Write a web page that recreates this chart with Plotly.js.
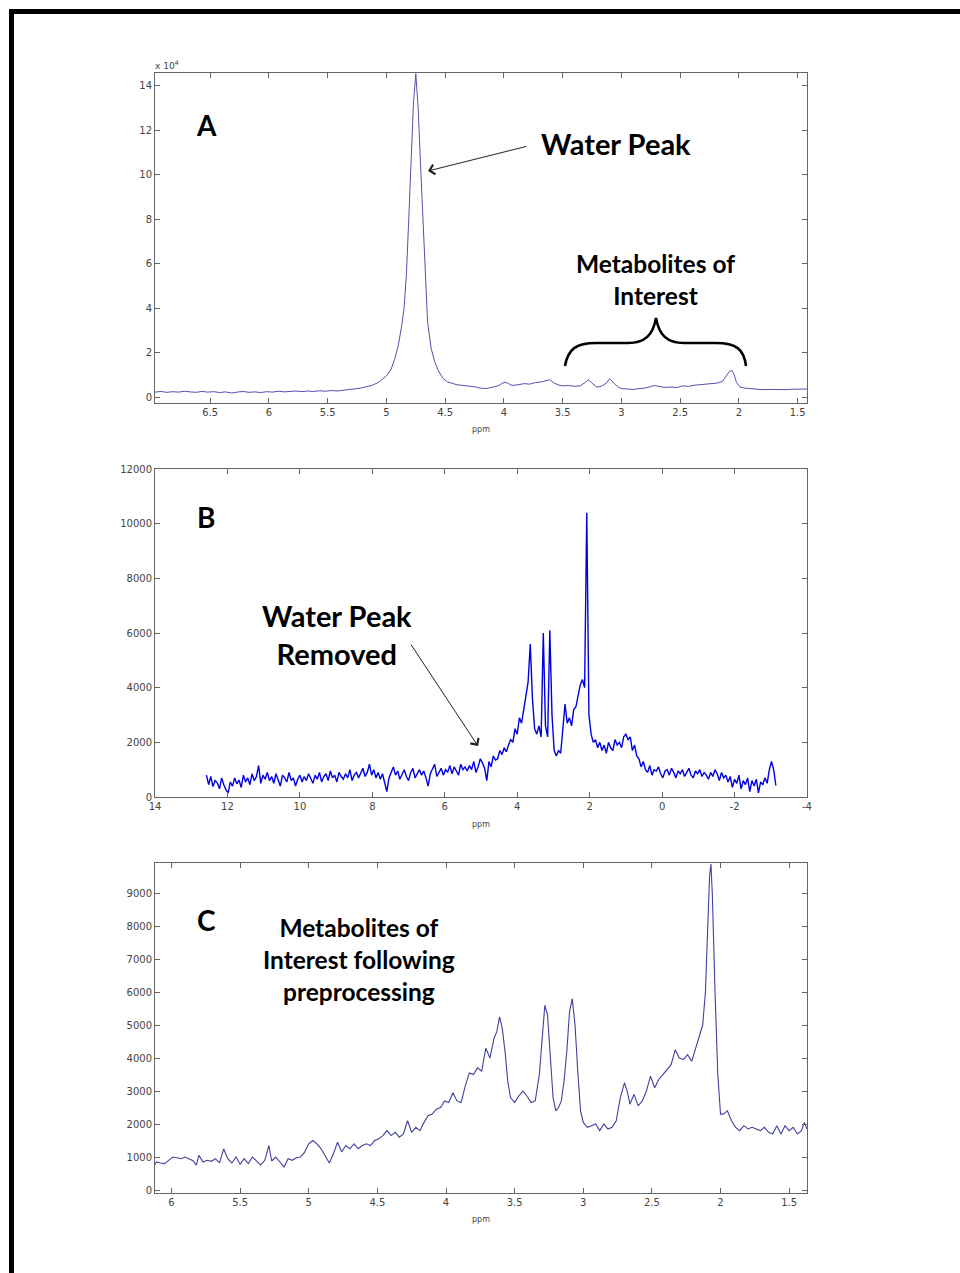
<!DOCTYPE html>
<html>
<head>
<meta charset="utf-8">
<script src="https://cdn.plot.ly/plotly-3.0.1.min.js"></script>
<style>html,body{margin:0;padding:0;background:#fff;}#chart{width:960px;height:1273px;}</style>
</head>
<body>
<div id="chart"></div>
<script>
// ---------- Panel A : raw spectrum (signal in units of 10^4) ----------
const aPpm = [6.97, 6.92, 6.87, 6.82, 6.77, 6.72, 6.67, 6.62, 6.57, 6.52,
  6.47, 6.42, 6.37, 6.32, 6.27, 6.22, 6.17, 6.12, 6.07, 6.02,
  5.97, 5.92, 5.87, 5.82, 5.77, 5.72, 5.67, 5.62, 5.57, 5.52,
  5.47, 5.42, 5.37, 5.32, 5.27, 5.22, 5.17, 5.12, 5.07, 5.03,
  5.00, 4.96, 4.93, 4.90, 4.87, 4.85, 4.83, 4.81, 4.79, 4.77,
  4.75, 4.73, 4.71, 4.69, 4.67, 4.65, 4.62, 4.59, 4.56, 4.52,
  4.48, 4.44, 4.40, 4.35, 4.30, 4.25, 4.20, 4.15, 4.10, 4.05,
  4.02, 3.99, 3.96, 3.93, 3.88, 3.83, 3.78, 3.73, 3.68, 3.64,
  3.61, 3.58, 3.54, 3.50, 3.45, 3.40, 3.35, 3.31, 3.28, 3.25,
  3.21, 3.17, 3.13, 3.10, 3.07, 3.03, 3.00, 2.95, 2.90, 2.85,
  2.80, 2.75, 2.72, 2.68, 2.63, 2.58, 2.53, 2.48, 2.43, 2.38,
  2.33, 2.28, 2.23, 2.18, 2.14, 2.11, 2.08, 2.06, 2.04, 2.02,
  1.99, 1.95, 1.90, 1.85, 1.80, 1.75, 1.70, 1.65, 1.60, 1.55,
  1.50, 1.45, 1.42];
const aSignal = [0.22, 0.25, 0.21, 0.24, 0.22, 0.26, 0.23, 0.21, 0.25, 0.22,
  0.24, 0.20, 0.23, 0.18, 0.22, 0.25, 0.21, 0.23, 0.20, 0.24,
  0.22, 0.26, 0.23, 0.25, 0.27, 0.24, 0.27, 0.25, 0.28, 0.26,
  0.29, 0.27, 0.30, 0.32, 0.34, 0.40, 0.46, 0.53, 0.65, 0.80,
  0.95, 1.25, 1.7, 2.3, 3.2, 4.0, 5.5, 8.0, 10.8, 13.2,
  14.55, 13.0, 10.5, 8.0, 5.2, 3.4, 2.2, 1.6, 1.2, 0.85,
  0.68, 0.60, 0.55, 0.52, 0.50, 0.46, 0.40, 0.38, 0.44, 0.50,
  0.60, 0.67, 0.60, 0.52, 0.55, 0.60, 0.58, 0.65, 0.68, 0.75,
  0.78, 0.65, 0.55, 0.50, 0.52, 0.48, 0.50, 0.65, 0.78, 0.62,
  0.45, 0.48, 0.62, 0.82, 0.68, 0.45, 0.38, 0.36, 0.34, 0.38,
  0.40, 0.47, 0.52, 0.48, 0.43, 0.45, 0.42, 0.50, 0.48, 0.53,
  0.55, 0.58, 0.60, 0.63, 0.70, 0.90, 1.15, 1.2, 1.0, 0.65,
  0.45, 0.40, 0.37, 0.35, 0.33, 0.34, 0.33, 0.34, 0.33, 0.35,
  0.35, 0.37, 0.36];
const aXTicks = [6.5, 6, 5.5, 5, 4.5, 4, 3.5, 3, 2.5, 2, 1.5];
const aYTicks = [0, 2, 4, 6, 8, 10, 12, 14];

// ---------- Panel B : water removed (uniform ppm grid, start / step) ----------
const bStartPpm = 12.58;
const bStepPpm = -0.06;
const bSignal = [800, 450, 750, 380, 600, 520, 300, 700, 450, 260,
  150, 550, 400, 700, 480, 620, 350, 800, 550, 700,
  450, 850, 600, 750, 1150, 500, 800, 650, 900, 600,
  750, 500, 850, 650, 400, 800, 700, 550, 900, 600,
  700, 400, 650, 800, 550, 750, 600, 850, 700, 500,
  800, 650, 900, 550, 750, 850, 600, 950, 700, 800,
  550, 900, 750, 650, 850, 700, 1000, 600, 800, 900,
  700, 850, 1050, 750, 900, 1200, 800, 1000, 700, 900,
  650, 850, 550, 200, 700, 900, 1100, 800, 950, 650,
  850, 1000, 750, 600, 900, 1050, 700, 850, 1000, 800,
  950, 700, 400, 850, 1000, 1200, 750, 900, 1050, 800,
  1000, 900, 1150, 850, 1100, 950, 800, 1200, 1000, 1100,
  950, 1150, 1000, 1300, 900, 1100, 1400, 1250, 1050, 600,
  1300, 1100, 1500, 1350, 1400, 1700, 1550, 1800, 1650, 1900,
  2100, 2000, 2500, 2300, 2900, 2700, 3200, 3700, 4200, 5600,
  3600, 2500, 2300, 2600, 2200, 6000, 2600, 2200, 6100, 3000,
  1700, 1500, 1700, 1600, 2500, 3400, 2700, 2900, 2600, 3200,
  3300, 3700, 4100, 4300, 4000, 10400, 3000, 2300, 2000, 2100,
  1800, 2000, 1700, 1900, 1600, 2000, 1800, 1700, 2100, 1900,
  2000, 1800, 2200, 2300, 2100, 2200, 1700, 1900, 1500, 1400,
  1100, 1300, 1000, 900, 1150, 800, 1000, 950, 1100, 850,
  700, 950, 1000, 800, 1050, 900, 700, 950, 850, 1000,
  750, 900, 1050, 800, 700, 950, 850, 1000, 750, 900,
  800, 650, 900, 750, 1000, 850, 600, 900, 700, 800,
  550, 750, 350, 650, 500, 800, 300, 600, 450, 700,
  200, 600, 400, 650, 150, 550, 450, 700, 500, 1000,
  1300, 1000, 420];
const bXTicks = [14, 12, 10, 8, 6, 4, 2, 0, -2, -4];
const bXLabels = ['14', '12', '10', '8', '6', '4', '2', '0', '-2', '-4'];

// ---------- Panel C : metabolite region after preprocessing ----------
const cPpm = [6.13, 6.11, 6.08, 6.05, 6.02, 5.99, 5.96, 5.93, 5.90, 5.87,
  5.84, 5.82, 5.80, 5.77, 5.74, 5.71, 5.68, 5.65, 5.62, 5.59,
  5.56, 5.53, 5.50, 5.47, 5.44, 5.41, 5.38, 5.35, 5.32, 5.29,
  5.27, 5.24, 5.21, 5.18, 5.15, 5.12, 5.09, 5.06, 5.03, 5.00,
  4.97, 4.94, 4.91, 4.88, 4.85, 4.82, 4.79, 4.76, 4.73, 4.70,
  4.67, 4.64, 4.61, 4.58, 4.55, 4.52, 4.49, 4.46, 4.43, 4.40,
  4.37, 4.34, 4.31, 4.28, 4.25, 4.22, 4.19, 4.16, 4.13, 4.10,
  4.07, 4.04, 4.01, 3.98, 3.95, 3.92, 3.89, 3.86, 3.83, 3.80,
  3.77, 3.74, 3.71, 3.68, 3.65, 3.63, 3.61, 3.59, 3.57, 3.55,
  3.53, 3.50, 3.47, 3.44, 3.41, 3.38, 3.35, 3.32, 3.30, 3.28,
  3.26, 3.24, 3.22, 3.20, 3.18, 3.16, 3.14, 3.12, 3.10, 3.08,
  3.06, 3.04, 3.02, 3.00, 2.97, 2.94, 2.91, 2.88, 2.85, 2.82,
  2.79, 2.76, 2.73, 2.70, 2.68, 2.66, 2.63, 2.60, 2.57, 2.54,
  2.51, 2.48, 2.45, 2.42, 2.39, 2.36, 2.33, 2.30, 2.27, 2.24,
  2.21, 2.18, 2.15, 2.13, 2.11, 2.09, 2.08, 2.07, 2.06, 2.04,
  2.02, 2.00, 1.98, 1.95, 1.92, 1.89, 1.86, 1.83, 1.80, 1.77,
  1.74, 1.71, 1.68, 1.65, 1.62, 1.59, 1.56, 1.53, 1.50, 1.47,
  1.44, 1.41, 1.39, 1.37];
const cSignal = [700, 850, 820, 800, 900, 1000, 980, 950, 1000, 930,
  880, 750, 1050, 850, 900, 870, 950, 820, 1250, 950,
  820, 1000, 780, 950, 800, 1000, 880, 760, 900, 1350,
  880, 1000, 850, 700, 950, 900, 980, 1000, 1150, 1400,
  1500, 1400, 1250, 1050, 820, 1100, 1450, 1150, 1350, 1250,
  1400, 1250, 1350, 1400, 1350, 1500, 1550, 1650, 1800, 1650,
  1750, 1600, 1700, 2100, 1750, 1900, 1800, 2050, 2250, 2300,
  2450, 2500, 2700, 2650, 2950, 2700, 2650, 3150, 3550, 3500,
  3700, 3600, 4300, 4000, 4600, 4800, 5250, 4900, 4200, 3300,
  2800, 2650, 2850, 3000, 2850, 2650, 2700, 3500, 4700, 5600,
  5300, 4000, 2800, 2400, 2500, 2700, 3300, 4200, 5400, 5800,
  5000, 3600, 2400, 2050, 1900, 1950, 2000, 1800, 2000, 1850,
  1900, 2100, 2800, 3250, 3000, 2600, 2900, 2550, 2700, 3000,
  3450, 3100, 3350, 3500, 3650, 3800, 4250, 4000, 3950, 4100,
  3900, 4300, 4700, 5000, 6000, 8000, 9500, 9880, 9000, 6000,
  3500, 2300, 2300, 2400, 2100, 1900, 1800, 1950, 1850, 1900,
  1850, 1800, 1900, 1750, 1700, 1950, 1700, 1950, 1800, 1900,
  1700, 1800, 2050, 1850];
const cXTicks = [6, 5.5, 5, 4.5, 4, 3.5, 3, 2.5, 2, 1.5];

// ---------- layout helpers (pixel -> paper) ----------
const W = 960, H = 1273;
const X = px => px / W;
const Y = py => 1 - py / H;

const tickFont = {family: 'DejaVu Sans, sans-serif', size: 10, color: '#444'};
function axisStyle(extra) {
  return Object.assign({
    showline: true, linecolor: '#666', linewidth: 1, mirror: 'ticks',
    ticks: 'inside', ticklen: 5, tickcolor: '#666', tickwidth: 1,
    showgrid: false, zeroline: false, tickfont: tickFont, fixedrange: true
  }, extra);
}

const xDom = [X(155), X(807)];
const traces = [
  {x: aPpm, y: aSignal, type: 'scatter', mode: 'lines', xaxis: 'x', yaxis: 'y',
   line: {color: '#5050b0', width: 1}, hoverinfo: 'skip'},
  {x0: bStartPpm, dx: bStepPpm, y: bSignal, type: 'scatter', mode: 'lines', xaxis: 'x2', yaxis: 'y2',
   line: {color: '#0000e0', width: 1.4}, hoverinfo: 'skip'},
  {x: cPpm, y: cSignal, type: 'scatter', mode: 'lines', xaxis: 'x3', yaxis: 'y3',
   line: {color: '#40409e', width: 1.1}, hoverinfo: 'skip'}
];

const bold = (size) => ({family: 'Lato, sans-serif', size: size, color: '#000', weight: 'bold'});
function txt(text, px, py, font, extra) {
  return Object.assign({text: text, x: X(px), y: Y(py), xref: 'paper', yref: 'paper',
    xanchor: 'center', yanchor: 'middle', showarrow: false, font: font}, extra || {});
}
function arrow(tipX, tipY, tailX, tailY) {
  return {text: '', x: X(tipX), y: Y(tipY), xref: 'paper', yref: 'paper', showarrow: true,
    ax: tailX - tipX, ay: tailY - tipY, axref: 'pixel', ayref: 'pixel',
    arrowhead: 4, arrowsize: 1.9, arrowwidth: 1, arrowcolor: '#222'};
}
const smallFont = {family: 'DejaVu Sans, sans-serif', size: 8, color: '#444'};
const ann = [
  txt('ppm', 481, 430, smallFont),
  txt('ppm', 481, 825, smallFont),
  txt('ppm', 481, 1219, smallFont),
  txt('x 10<sup>4</sup>', 153, 65, {family: 'DejaVu Sans, sans-serif', size: 9, color: '#444'}, {xanchor: 'left'}),
  // panel A
  txt('<b>A</b>', 206, 125, bold(28)),
  txt('<b>Water Peak</b>', 616, 143, bold(29)),
  arrow(428, 171, 528, 146),
  txt('<b>Metabolites of<br>Interest</b>', 655, 280, bold(24.5)),
  // panel B
  txt('<b>B</b>', 206, 517, bold(28)),
  txt('<b>Water Peak<br>Removed</b>', 337, 634, bold(29)),
  arrow(478, 746, 410, 643),
  // panel C
  txt('<b>C</b>', 206, 920, bold(28)),
  txt('<b>Metabolites of<br>Interest following<br>preprocessing</b>', 359, 959, bold(24.5))
];

function P(x, y) { return X(x).toFixed(5) + ',' + Y(y).toFixed(5); }
const bracePath = 'M' + P(565, 366) + ' C' + P(568, 349) + ' ' + P(576, 343) + ' ' + P(596, 343) +
  ' L' + P(628, 343) + ' C' + P(645, 343) + ' ' + P(653, 335) + ' ' + P(656, 318) +
  ' C' + P(659, 335) + ' ' + P(667, 343) + ' ' + P(684, 343) +
  ' L' + P(716, 343) + ' C' + P(736, 343) + ' ' + P(744, 349) + ' ' + P(746, 366);

const shapes = [
  {type: 'rect', xref: 'paper', yref: 'paper', x0: X(9), x1: X(960), y0: Y(14), y1: Y(9), fillcolor: '#000', line: {width: 0}},
  {type: 'rect', xref: 'paper', yref: 'paper', x0: X(9), x1: X(14), y0: Y(1273), y1: Y(9), fillcolor: '#000', line: {width: 0}},
  {type: 'path', xref: 'paper', yref: 'paper', path: bracePath, line: {color: '#000', width: 2.6}}
];

const layout = {
  width: W, height: H, margin: {l: 0, r: 0, t: 0, b: 0},
  paper_bgcolor: '#fff', plot_bgcolor: '#fff', showlegend: false,
  xaxis: axisStyle({domain: xDom, anchor: 'y', range: [6.97, 1.42], tickvals: aXTicks}),
  yaxis: axisStyle({domain: [Y(403), Y(73)], anchor: 'x', range: [-0.27, 14.58], tickvals: aYTicks}),
  xaxis2: axisStyle({domain: xDom, anchor: 'y2', range: [14, -4], tickvals: bXTicks, ticktext: bXLabels}),
  yaxis2: axisStyle({domain: [Y(797), Y(469)], anchor: 'x2', range: [0, 12000], dtick: 2000, tickformat: 'd'}),
  xaxis3: axisStyle({domain: xDom, anchor: 'y3', range: [6.12, 1.37], tickvals: cXTicks}),
  yaxis3: axisStyle({domain: [Y(1193), Y(863)], anchor: 'x3', range: [-90, 9910], dtick: 1000, tickformat: 'd'}),
  annotations: ann,
  shapes: shapes
};

Plotly.newPlot('chart', traces, layout, {displayModeBar: false, staticPlot: true});
</script>
</body>
</html>
